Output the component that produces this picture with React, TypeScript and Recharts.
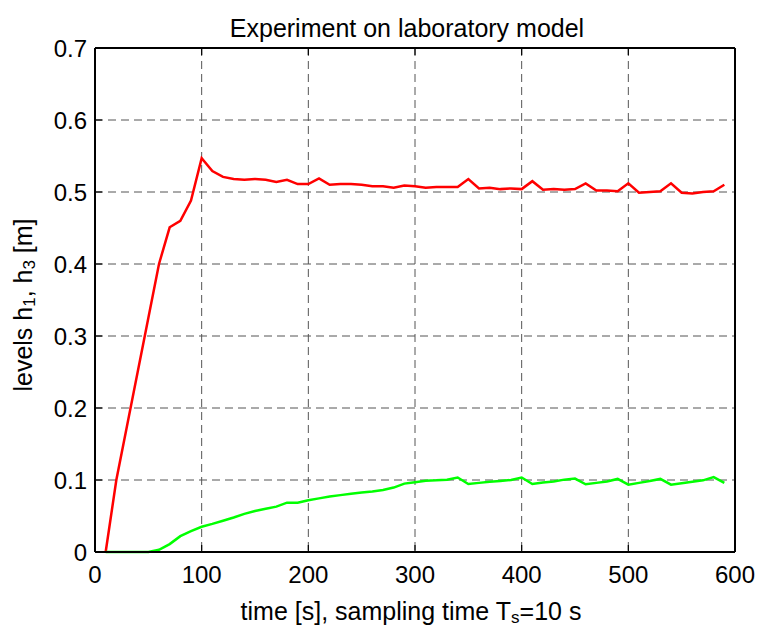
import { LineChart, Line, XAxis, YAxis, CartesianGrid } from 'recharts';

// sampling instants [s], Ts = 10 s
const time = [
  10, 20, 30, 40, 50, 60, 70, 80, 90, 100, 110, 120, 130, 140, 150, 160, 170, 180, 190, 200,
  210, 220, 230, 240, 250, 260, 270, 280, 290, 300, 310, 320, 330, 340, 350, 360, 370, 380, 390, 400,
  410, 420, 430, 440, 450, 460, 470, 480, 490, 500, 510, 520, 530, 540, 550, 560, 570, 580, 590,
];

// level h1 [m] (red)
const h1 = [
  0, 0.1, 0.175, 0.25, 0.325, 0.4, 0.451, 0.46, 0.488, 0.547, 0.529, 0.521, 0.518, 0.517, 0.518, 0.517, 0.514, 0.517, 0.511, 0.511,
  0.519, 0.51, 0.511, 0.511, 0.51, 0.508, 0.508, 0.506, 0.509, 0.508, 0.506, 0.507, 0.507, 0.507, 0.518, 0.505, 0.506, 0.504, 0.505, 0.504,
  0.515, 0.503, 0.504, 0.503, 0.504, 0.512, 0.502, 0.502, 0.501, 0.512, 0.499, 0.5, 0.501, 0.512, 0.499, 0.498, 0.5, 0.501, 0.51,
];

// level h3 [m] (green)
const h3 = [
  0, 0, 0, 0, 0, 0.003, 0.011, 0.022, 0.029, 0.035, 0.039, 0.0435, 0.048, 0.053, 0.057, 0.06, 0.063, 0.0685, 0.0685, 0.072,
  0.0745, 0.077, 0.079, 0.081, 0.0825, 0.084, 0.086, 0.0895, 0.095, 0.097, 0.099, 0.0995, 0.1005, 0.1035, 0.0945, 0.096, 0.0975, 0.0987, 0.1, 0.1035,
  0.0945, 0.0964, 0.098, 0.1005, 0.102, 0.094, 0.096, 0.098, 0.1015, 0.0935, 0.096, 0.0985, 0.1015, 0.0935, 0.0955, 0.0975, 0.0995, 0.104, 0.096,
];

const xTicks = [0, 100, 200, 300, 400, 500, 600];
const yTicks = [0, 0.1, 0.2, 0.3, 0.4, 0.5, 0.6, 0.7];

const data = time.map((t, i) => ({ t, h1: h1[i], h3: h3[i] }));

const FONT = '"Liberation Sans", Arial, Helvetica, sans-serif';
const TICK_LEN = 7;

function BottomTick({ x, y, payload }: any) {
  const v = payload.value;
  return (
    <g>
      {v !== 0 && v !== 600 && <line x1={x} y1={y} x2={x} y2={y - TICK_LEN} stroke="#000" strokeWidth={1.2} />}
      <text x={x} y={y + 31} textAnchor="middle" fontSize={24} fontFamily={FONT} fill="#000">
        {v}
      </text>
    </g>
  );
}

function TopTick({ x, y, payload }: any) {
  const v = payload.value;
  if (v === 0 || v === 600) return <g />;
  return <line x1={x} y1={y} x2={x} y2={y + TICK_LEN} stroke="#000" strokeWidth={1.2} />;
}

function LeftTick({ x, y, payload }: any) {
  const v = payload.value;
  return (
    <g>
      {v !== 0 && v !== 0.7 && <line x1={x} y1={y} x2={x + TICK_LEN} y2={y} stroke="#000" strokeWidth={1.2} />}
      <text x={x - 8} y={y + 9} textAnchor="end" fontSize={24} fontFamily={FONT} fill="#000">
        {v === 0 ? '0' : v.toFixed(1)}
      </text>
    </g>
  );
}

function RightTick({ x, y, payload }: any) {
  const v = payload.value;
  if (v === 0 || v === 0.7) return <g />;
  return <line x1={x} y1={y} x2={x - TICK_LEN} y2={y} stroke="#000" strokeWidth={1.2} />;
}

export default function App() {
  return (
    <div style={{ position: 'absolute', left: 0, top: 0, width: 758, height: 628, background: '#fff' }}>
      <LineChart
        width={758}
        height={628}
        data={data}
        margin={{ top: 47, right: 22, bottom: 75, left: 94 }}
      >
        <CartesianGrid stroke="#555" strokeDasharray="8 5" strokeWidth={1} />
        <XAxis
          dataKey="t"
          type="number"
          domain={[0, 600]}
          ticks={xTicks}
          height={1}
          tickSize={0}
          tickMargin={0}
          axisLine={{ stroke: '#000', strokeWidth: 2 }}
          tick={BottomTick}
          interval={0}
        />
        <XAxis
          xAxisId="top"
          orientation="top"
          dataKey="t"
          type="number"
          domain={[0, 600]}
          ticks={xTicks}
          height={1}
          tickSize={0}
          tickMargin={0}
          axisLine={{ stroke: '#000', strokeWidth: 2 }}
          tick={TopTick}
          interval={0}
        />
        <YAxis
          type="number"
          domain={[0, 0.7]}
          ticks={yTicks}
          width={1}
          tickSize={0}
          tickMargin={0}
          axisLine={{ stroke: '#000', strokeWidth: 2 }}
          tick={LeftTick}
          interval={0}
        />
        <YAxis
          yAxisId="right"
          orientation="right"
          type="number"
          domain={[0, 0.7]}
          ticks={yTicks}
          width={1}
          tickSize={0}
          tickMargin={0}
          axisLine={{ stroke: '#000', strokeWidth: 2 }}
          tick={RightTick}
          interval={0}
        />
        <Line type="linear" dataKey="h1" stroke="#ff0000" strokeWidth={2.5} dot={false} isAnimationActive={false} />
        <Line type="linear" dataKey="h3" stroke="#00ff00" strokeWidth={2.5} dot={false} isAnimationActive={false} />
      </LineChart>
      <svg
        width={758}
        height={628}
        style={{ position: 'absolute', left: 0, top: 0, pointerEvents: 'none' }}
        fontFamily={FONT}
      >
        <text x={407} y={37} textAnchor="middle" fontSize={25} fill="#000">
          Experiment on laboratory model
        </text>
        <text x={411} y={620} textAnchor="middle" fontSize={25} fill="#000">
          time [s], sampling time T
          <tspan fontSize={17} dy={3}>s</tspan>
          <tspan dy={-3}>=10 s</tspan>
        </text>
        <text
          x={32}
          y={305}
          textAnchor="middle"
          fontSize={25}
          fill="#000"
          transform="rotate(-90 32 305)"
        >
          levels h<tspan fontSize={17} dy={3}>1</tspan>
          <tspan dy={-3}>, h</tspan>
          <tspan fontSize={17} dy={3}>3</tspan>
          <tspan dy={-3}> [m]</tspan>
        </text>
      </svg>
    </div>
  );
}
